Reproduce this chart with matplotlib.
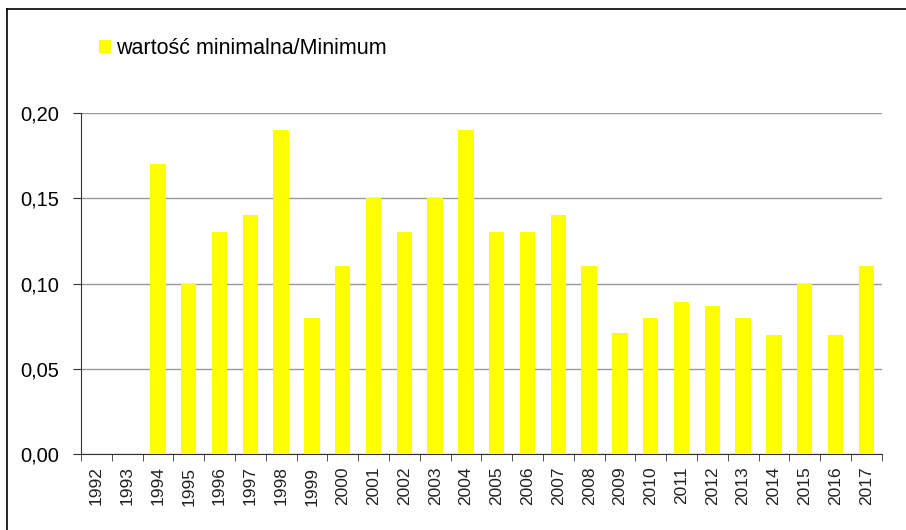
import matplotlib
matplotlib.use("Agg")
import matplotlib.pyplot as plt
from matplotlib.patches import Patch
from matplotlib.lines import Line2D

years = [str(y) for y in range(1992, 2018)]
values = [None, None, 0.17, 0.10, 0.13, 0.14, 0.19, 0.08, 0.11, 0.15, 0.13, 0.15,
          0.19, 0.13, 0.13, 0.14, 0.11, 0.071, 0.08, 0.089, 0.087, 0.08, 0.07,
          0.10, 0.07, 0.11]
yticks = [0.00, 0.05, 0.10, 0.15, 0.20]
ytick_labels = ["0,00", "0,05", "0,10", "0,15", "0,20"]
series_label = "wartość minimalna/Minimum"

plt.rcParams['font.family'] = ['Liberation Sans', 'DejaVu Sans']

fig = plt.figure(figsize=(9.06, 5.30), dpi=100)
ax = fig.add_axes([81/906, 1-454/530, (881.7-81)/906, (454-113)/530])

x = list(range(len(years)))
h = [v if v is not None else 0 for v in values]
ax.bar(x, h, width=0.5, color="#FFFF00", zorder=3)

ax.set_xlim(-0.5, len(years)-0.5)
ax.set_ylim(0, 0.20)
ax.set_yticks(yticks)
ax.set_yticklabels(ytick_labels, fontsize=14.5)
ax.yaxis.grid(True, color="#999999", linewidth=1.0, zorder=0)
ax.tick_params(axis='y', length=6, pad=10, color="#333333")

ax.set_xticks(x)
ax.set_xticklabels(years, rotation=90, fontsize=12.5, color="#222222")
ax.tick_params(axis='x', which='major', length=0, pad=9)
ax.set_xticks([i - 0.5 for i in range(len(years)+1)], minor=True)
ax.tick_params(axis='x', which='minor', length=5, color="#333333")

for s in ["top", "right"]:
    ax.spines[s].set_visible(False)
ax.spines["left"].set_color("#333333")
ax.spines["bottom"].set_color("#333333")

# outer frame (top and left visible)
fig.add_artist(Line2D([7/906, 1.0], [1-9/530, 1-9/530], color="black", linewidth=1.2))
fig.add_artist(Line2D([7/906, 7/906], [0, 1-9/530], color="black", linewidth=1.2))

handle = Patch(facecolor="#FFFF00", edgecolor="none")
fig.legend([handle], [series_label], loc="center left",
           bbox_to_anchor=(99/906, 1-49/530), frameon=False, fontsize=15.5,
           handlelength=0.55, handleheight=0.55, handletextpad=0.25,
           borderpad=0, borderaxespad=0)

fig.savefig("out.png", dpi=100)
